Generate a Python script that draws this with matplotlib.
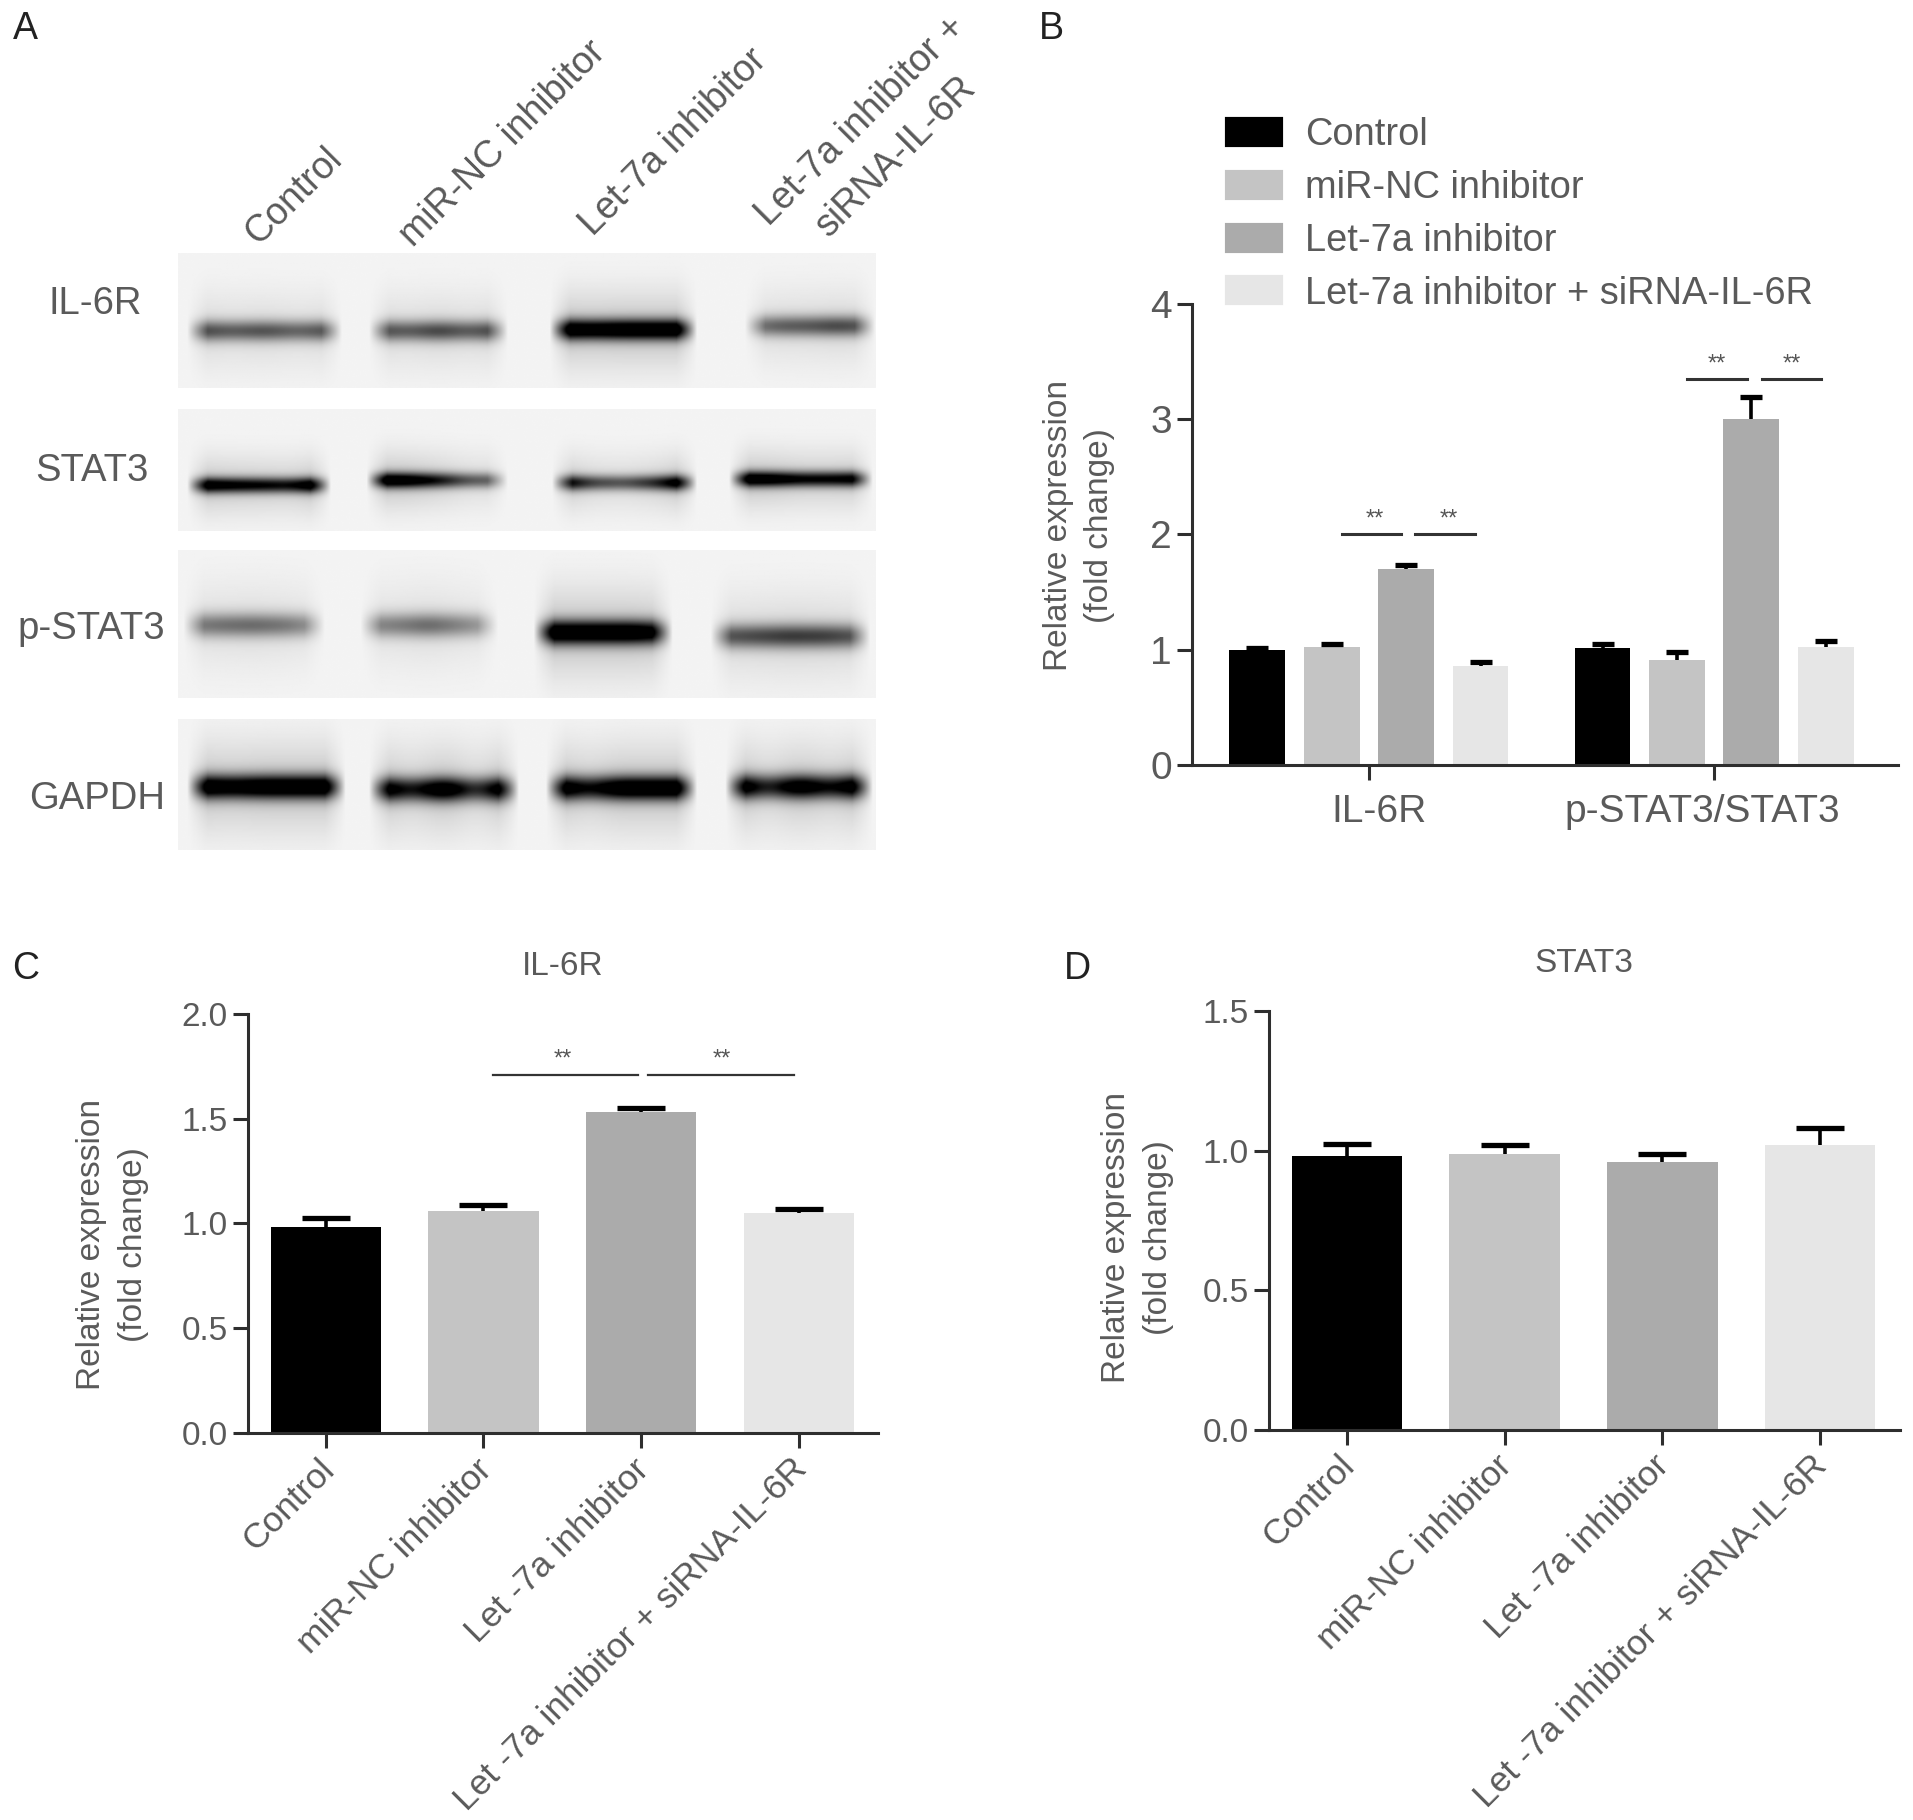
import numpy as np
import matplotlib
matplotlib.use('Agg')
import matplotlib.pyplot as plt
from matplotlib.patches import Patch
from matplotlib.transforms import ScaledTranslation

plt.rcParams['font.family'] = ['Liberation Sans', 'DejaVu Sans']

# reference was read at 1568 wide, everything below gets scaled up from that
W, H = 1568, 1492

groups = ['Control', 'miR-NC inhibitor', 'Let-7a inhibitor', 'Let-7a inhibitor + siRNA-IL-6R']
groups_cd = ['Control', 'miR-NC inhibitor', 'Let -7a inhibitor', 'Let -7a inhibitor + siRNA-IL-6R']
colors = ['#000000', '#c4c4c4', '#ababab', '#e6e6e6']
text_col = '#5a5a5a'
line_col = '#2e2e2e'

# panel B
b_cats = ['IL-6R', 'p-STAT3/STAT3']
b_vals = [[1.00, 1.02, 1.70, 0.86], [1.01, 0.91, 3.00, 1.02]]
b_errs = [[0.01, 0.03, 0.03, 0.03], [0.04, 0.07, 0.19, 0.05]]
# panel C
c_vals = [0.985, 1.06, 1.53, 1.05]
c_errs = [0.04, 0.03, 0.02, 0.02]
# panel D
d_vals = [0.98, 0.99, 0.96, 1.02]
d_errs = [0.045, 0.03, 0.03, 0.06]

# panel A, western blot: darkness along each band
blot_names = ['IL-6R', 'STAT3', 'p-STAT3', 'GAPDH']
lane_labels = ['Control', 'miR-NC inhibitor', 'Let-7a inhibitor', 'Let-7a inhibitor +\nsiRNA-IL-6R']
blot_dark = [
    [[.55, .48, .52, .45, .52], [.52, .48, .56, .48, .55], [1.0, .95, 1.0, 1.0, 1.0], [.40, .48, .50, .55, .50]],
    [[.95, .85, .80, .75, 1.0], [1.0, .95, .75, .50, .45], [.85, .55, .50, .65, 1.0], [1.0, .95, .80, .80, .85]],
    [[.38, .42, .44, .40, .30], [.34, .38, .44, .36, .26], [1.0, 1.0, 1.0, 1.0, .85], [.50, .55, .60, .58, .50]],
    [[1.0, .92, 1.0, 1.0, 1.0], [.95, .70, 1.0, .60, 1.0], [1.0, .75, 1.0, 1.0, 1.0], [1.0, .65, .95, .75, 1.0]],
]
blot_centre = [
    [271, 271, 270, 267],
    [397, 393, 395, 392],
    [512, 512, 518, 521],
    [645, 647, 646, 645],
]
blot_sigma = [6, 4.5, 7, 7]
blot_rows = [(208, 318), (335, 435), (451, 572), (590, 697)]
lane_spans = [
    [(156, 277), (305, 413), (453, 568), (613, 714)],
    [(156, 268), (303, 413), (455, 568), (600, 712)],
    [(153, 263), (298, 405), (440, 548), (585, 710)],
    [(156, 280), (305, 422), (450, 568), (597, 712)],
]


def px_axes(fig, left, right, top, bottom):
    return fig.add_axes([left / W, 1 - bottom / H, (right - left) / W, (bottom - top) / H])


def style(ax, fs):
    for s in ['top', 'right']:
        ax.spines[s].set_visible(False)
    for s in ['left', 'bottom']:
        ax.spines[s].set_linewidth(2.2)
        ax.spines[s].set_color(line_col)
    ax.tick_params(axis='both', width=2.2, length=11, color=line_col, labelcolor=text_col, labelsize=fs)
    ax.patch.set_alpha(0)


def bars(ax, x, vals, errs, width, cap):
    ax.bar(x, vals, width=width, color=colors, linewidth=0)
    # only the upper cap, the lower one would sit on the bar top
    _, caps, _ = ax.errorbar(x, vals, yerr=[np.zeros(len(errs)), errs], fmt='none', ecolor='black',
                             elinewidth=2.6, capsize=cap, capthick=3.8)
    caps[0].set_visible(False)


def shift_labels(ax, fig, dx, dy):
    # dx, dy in reference pixels, dy up
    for lab in ax.get_xticklabels():
        lab.set_transform(lab.get_transform() + ScaledTranslation(dx * 1.22 / 100, dy * 1.22 / 100, fig.dpi_scale_trans))


def blot_image(dark, centre, sigma, rows, spans):
    y0, y1 = rows
    xs = np.arange(146, 718)
    ys = np.arange(y0, y1)
    img = np.full((len(ys), len(xs)), 0.955)
    k = np.ones(17) / 17
    for lane, span, yc in zip(dark, spans, centre):
        prof = np.interp(xs, np.linspace(span[0] + 6, span[1] - 6, 5), lane, left=0, right=0)
        prof = np.convolve(prof, k, mode='same')
        for i, p in enumerate(prof):
            d = np.exp(-0.5 * ((ys - yc) / sigma) ** 2) + 0.16 * np.exp(-0.5 * ((ys - yc) / (sigma * 3.6)) ** 2)
            img[:, i] -= 1.05 * p * d
    return np.clip(img, 0, 1), (146, 718, y1, y0)


fig = plt.figure(figsize=(19.13, 18.2), dpi=100)

# overlay in reference pixels for panel A and the letters
ov = fig.add_axes([0, 0, 1, 1])
for dark, centre, sigma, rows, spans in zip(blot_dark, blot_centre, blot_sigma, blot_rows, lane_spans):
    img, ext = blot_image(dark, centre, sigma, rows, spans)
    ov.imshow(img, cmap='gray', vmin=0, vmax=1, extent=ext, aspect='auto', interpolation='bilinear')
ov.set_xlim(0, W)
ov.set_ylim(H, 0)
ov.axis('off')

for name, xr, y in zip(blot_names, [116, 122, 135, 135], [249, 386, 516, 655]):
    ov.text(xr, y, name, ha='right', va='center', fontsize=27.5, color=text_col)

for lab, (x, y) in zip(lane_labels, [(216, 206), (343, 208), (491, 199), (664, 220)]):
    ov.text(x, y, lab, rotation=45, ha='left', va='bottom', rotation_mode='anchor', fontsize=27,
            color=text_col, linespacing=1.5, multialignment='center')

for letter, x, y in [('A', 21, 24), ('B', 862, 24), ('C', 21, 794), ('D', 883, 794)]:
    ov.text(x, y, letter, ha='center', va='center', fontsize=27, color='#222222')
ov.text(461, 792, 'IL-6R', ha='center', va='center', fontsize=24, color=text_col)
ov.text(1298, 790, 'STAT3', ha='center', va='center', fontsize=24, color=text_col)

# panel B
ax = px_axes(fig, 977, 1556, 249, 627)
step = 61
x1 = np.arange(4) - 1.5
x2 = x1 + 283 / step
bars(ax, x1, b_vals[0], b_errs[0], 0.75, 8)
bars(ax, x2, b_vals[1], b_errs[1], 0.75, 8)
ax.set_xlim((977 - 1122) / step, (1556 - 1122) / step)
ax.set_ylim(0, 4)
ax.set_yticks([0, 1, 2, 3, 4])
ax.set_xticks([0, 283 / step])
ax.set_xticklabels(b_cats)
style(ax, 28)
ax.tick_params(axis='x', labelsize=28, pad=10)
for lab, dx in zip(ax.get_xticklabels(), [8, -10]):
    lab.set_transform(lab.get_transform() + ScaledTranslation(dx * 1.22 / 100, 0, fig.dpi_scale_trans))
ax.set_ylabel('Relative expression\n(fold change)', fontsize=24, color=text_col, labelpad=25, linespacing=1.45, y=0.518)
for xa, xb, xs, y in [(-0.36, 0.43, 0.08, 2.0), (0.62, 1.43, 1.07, 2.0),
                      (4.28, 5.08, 4.68, 3.35), (5.28, 6.07, 5.68, 3.35)]:
    ax.plot([xa, xb], [y, y], color='#333333', lw=2.2, clip_on=False)
    ax.text(xs, y + 0.03, '**', ha='center', va='bottom', fontsize=17, color='#555555')
handles = [Patch(facecolor=c, edgecolor=c, linewidth=3, joinstyle='round') for c in colors]
ax.legend(handles, groups, loc='upper left', bbox_to_anchor=((1006 - 977) / (1556 - 977), 1.404),
          frameon=False, fontsize=27.4, labelcolor=text_col, handlelength=1.42, handleheight=0.68,
          labelspacing=0.44, handletextpad=0.62, borderpad=0, borderaxespad=0)

# panel C
ax = px_axes(fig, 203, 720, 831, 1175)
step = 129.3
x = np.arange(4)
bars(ax, x, c_vals, c_errs, 0.7, 17)
ax.set_xlim((203 - 267) / step, (720 - 267) / step)
ax.set_ylim(0, 2)
ax.set_yticks([0, 0.5, 1, 1.5, 2])
ax.set_yticklabels(['0.0', '0.5', '1.0', '1.5', '2.0'])
ax.set_xticks(x)
ax.set_xticklabels(groups_cd, rotation=45, ha='right', rotation_mode='anchor')
style(ax, 24)
ax.tick_params(axis='x', labelsize=25.5, pad=9)
shift_labels(ax, fig, -7, 7)
ax.set_ylabel('Relative expression\n(fold change)', fontsize=24, color=text_col, labelpad=23.5, linespacing=1.45, y=0.45)
for xa, xb, xs in [(1.06, 1.98, 1.5), (2.04, 2.97, 2.51)]:
    ax.plot([xa, xb], [1.71, 1.71], color='#333333', lw=1.6)
    ax.text(xs, 1.73, '**', ha='center', va='bottom', fontsize=17, color='#555555')

# panel D
ax = px_axes(fig, 1040, 1557, 829, 1172)
bars(ax, x, d_vals, d_errs, 0.7, 17)
ax.set_xlim((1040 - 1104) / step, (1557 - 1104) / step)
ax.set_ylim(0, 1.5)
ax.set_yticks([0, 0.5, 1, 1.5])
ax.set_yticklabels(['0.0', '0.5', '1.0', '1.5'])
ax.set_xticks(x)
ax.set_xticklabels(groups_cd, rotation=45, ha='right', rotation_mode='anchor')
style(ax, 24)
ax.tick_params(axis='x', labelsize=25.5, pad=9)
shift_labels(ax, fig, -8, 7)
ax.set_ylabel('Relative expression\n(fold change)', fontsize=24, color=text_col, labelpad=20.5, linespacing=1.45, y=0.459)

fig.savefig('out.png', dpi=100)
